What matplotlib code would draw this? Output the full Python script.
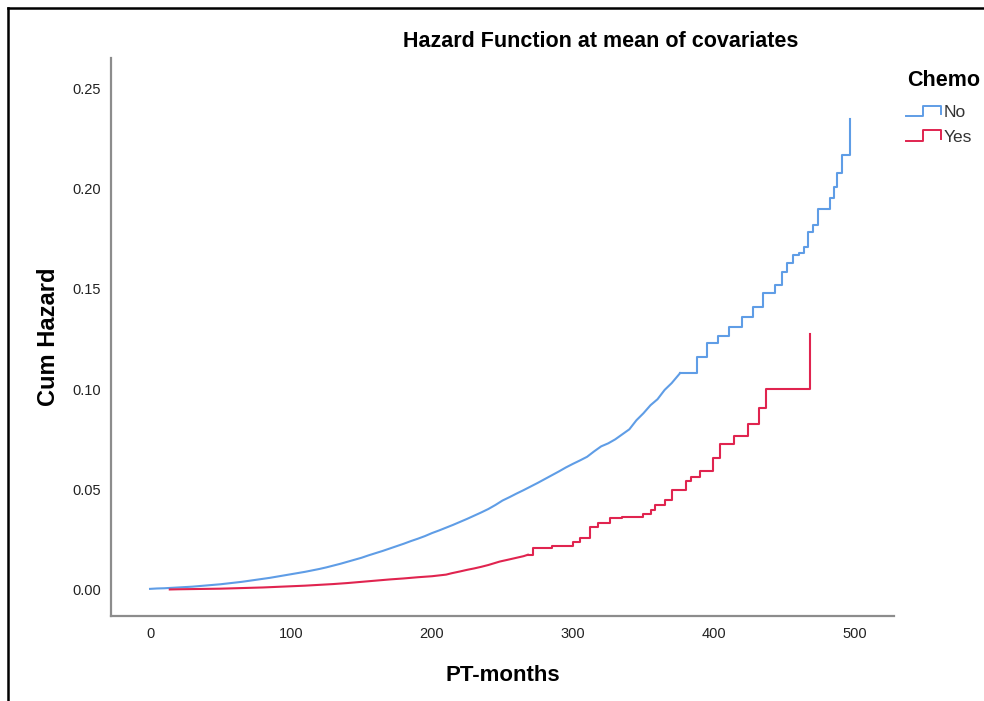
import matplotlib as mpl
mpl.use('Agg')
import matplotlib.pyplot as plt
from matplotlib.lines import Line2D
from matplotlib.legend_handler import HandlerBase

plt.rcParams['font.family'] = ['Liberation Sans', 'DejaVu Sans']

# cumulative hazard, Chemo = No
t_no = [0, 5, 10, 15, 20, 25, 30, 35, 40, 45, 50, 55, 60, 65, 70, 75, 80, 85,
        90, 95, 100, 105, 110, 115, 120, 125, 130, 135, 140, 145, 150, 155, 160,
        165, 170, 175, 180, 185, 190, 195, 200, 205, 210, 215, 220, 225, 230,
        235, 240, 245, 250, 255, 260, 265, 270, 275, 280, 285, 290, 295, 300,
        305, 310, 315, 320, 325, 330, 335, 340, 345, 350, 355, 360, 365, 370,
        376, 388, 395, 403, 411, 420, 428, 435, 443, 448, 452, 456, 460, 464,
        467, 470, 474, 482, 485.5, 487, 491, 496.5]
h_no = [0.0005, 0.0007, 0.0008, 0.0010, 0.0012, 0.0014, 0.0016, 0.0019, 0.0022,
        0.0025, 0.0028, 0.0032, 0.0036, 0.0040, 0.0045, 0.0050, 0.0055, 0.0060,
        0.0066, 0.0072, 0.0078, 0.0084, 0.0090, 0.0097, 0.0104, 0.0112, 0.0121,
        0.0130, 0.0140, 0.0150, 0.0160, 0.0172, 0.0183, 0.0194, 0.0206, 0.0218,
        0.0230, 0.0243, 0.0255, 0.0268, 0.0283, 0.0296, 0.0310, 0.0324, 0.0339,
        0.0354, 0.0370, 0.0386, 0.0403, 0.0423, 0.0445, 0.0462, 0.0480, 0.0497,
        0.0515, 0.0533, 0.0552, 0.0571, 0.0590, 0.0610, 0.0628, 0.0645, 0.0663,
        0.0690, 0.0715, 0.0730, 0.0750, 0.0775, 0.0800, 0.0845, 0.0880, 0.0920,
        0.0950, 0.0996, 0.1030, 0.1080, 0.1162, 0.1230, 0.1265, 0.1310, 0.1360,
        0.1410, 0.1478, 0.1520, 0.1585, 0.1627, 0.1668, 0.1680, 0.1710, 0.1785,
        0.1818, 0.1896, 0.1950, 0.2009, 0.2075, 0.2166, 0.2344]

# cumulative hazard, Chemo = Yes
t_yes = [14, 20, 30, 40, 50, 60, 70, 80, 90, 100, 110, 120, 130, 140, 150, 160,
         170, 180, 190, 200, 205, 210, 214, 220, 225, 230, 235, 240, 248, 255,
         260, 265, 268, 272, 285, 300, 305, 312, 318, 326, 335, 350, 355, 358,
         365, 370, 380, 384, 390, 399, 404, 414, 424, 432, 437, 468]
h_yes = [0.0002, 0.0003, 0.0004, 0.0005, 0.0006, 0.0008, 0.0010, 0.0012, 0.0015,
         0.0018, 0.0021, 0.0025, 0.0029, 0.0034, 0.0040, 0.0046, 0.0052, 0.0057,
         0.0063, 0.0068, 0.0072, 0.0076, 0.0083, 0.0092, 0.0100, 0.0107, 0.0115,
         0.0124, 0.0141, 0.0152, 0.0160, 0.0168, 0.0175, 0.0208, 0.0220, 0.0240,
         0.0260, 0.0315, 0.0335, 0.0357, 0.0365, 0.0380, 0.0400, 0.0423, 0.0450,
         0.0498, 0.0540, 0.0564, 0.0590, 0.0656, 0.0727, 0.0767, 0.0825, 0.0905,
         0.0999, 0.1273]

groups = ["No", "Yes"]
colors = ["#5f9de6", "#e0244f"]
# before these times the steps are too fine to show, so draw a plain line
smooth_until = [376, 268]
x_ticks = [0, 100, 200, 300, 400, 500]
y_ticks = [0.00, 0.05, 0.10, 0.15, 0.20, 0.25]


class StepHandler(HandlerBase):
    # little step glyph for the legend entries
    def create_artists(self, legend, orig_handle, xdescent, ydescent,
                       width, height, fontsize, trans):
        xs = [0, 0.5 * width, 0.5 * width, width, width]
        ys = [0.1 * height, 0.1 * height, 0.95 * height, 0.95 * height, 0.25 * height]
        ln = Line2D(xs, ys, color=orig_handle.get_color(), lw=1.4, transform=trans)
        return [ln]


def draw_curve(ax, t, h, color, cut):
    k = max(i for i, v in enumerate(t) if v <= cut)
    ax.plot(t[:k + 1], h[:k + 1], color=color, lw=1.5)
    ln, = ax.plot(t[k:], h[k:], drawstyle='steps-post', color=color, lw=1.5)
    return ln


fig = plt.figure(figsize=(9.84, 7.01), dpi=100)
ax = fig.add_axes([0.1128, 0.1213, 0.7957, 0.796])

l1 = draw_curve(ax, t_no, h_no, colors[0], smooth_until[0])
l2 = draw_curve(ax, t_yes, h_yes, colors[1], smooth_until[1])

ax.set_xlim(-27.7, 527.7)
ax.set_ylim(-0.013, 0.265)
ax.set_xticks(x_ticks)
ax.set_xticklabels([str(v) for v in x_ticks])
ax.set_yticks(y_ticks)
ax.set_yticklabels([f"{v:.2f}" for v in y_ticks])
ax.tick_params(length=0, labelsize=10.5, labelcolor="#222222", pad=7)
ax.tick_params(axis='x', pad=8)

for s in ['top', 'right']:
    ax.spines[s].set_visible(False)
for s in ['left', 'bottom']:
    ax.spines[s].set_color('#8c8c8c')
    ax.spines[s].set_linewidth(1.6)

fig.text(0.61, 0.941, "Hazard Function at mean of covariates", ha='center',
         va='center', fontsize=15.5, fontweight='bold')
ax.set_xlabel("PT-months", fontsize=16, fontweight='bold', labelpad=17)
ax.set_ylabel("Cum Hazard", fontsize=17, fontweight='bold', labelpad=9)

fig.text(907 / 984, 1 - 80 / 701, "Chemo", ha='left', va='center',
         fontsize=15.5, fontweight='bold')
leg = fig.legend([l1, l2], groups, loc='upper left',
                 bbox_to_anchor=(906 / 984, 1 - 105 / 701), frameon=False,
                 handler_map={Line2D: StepHandler()}, fontsize=12.5,
                 handlelength=2.0, handletextpad=0.15, labelspacing=0.55,
                 borderaxespad=0, borderpad=0)
for txt in leg.get_texts():
    txt.set_color('#333333')

# outer frame (top and left edges)
fig.add_artist(Line2D([8 / 984, 8 / 984], [0, 1 - 8 / 701], color='black', lw=1.8,
                      transform=fig.transFigure))
fig.add_artist(Line2D([8 / 984, 1], [1 - 8 / 701, 1 - 8 / 701], color='black', lw=1.8,
                      transform=fig.transFigure))

fig.savefig("out.png", dpi=100)
